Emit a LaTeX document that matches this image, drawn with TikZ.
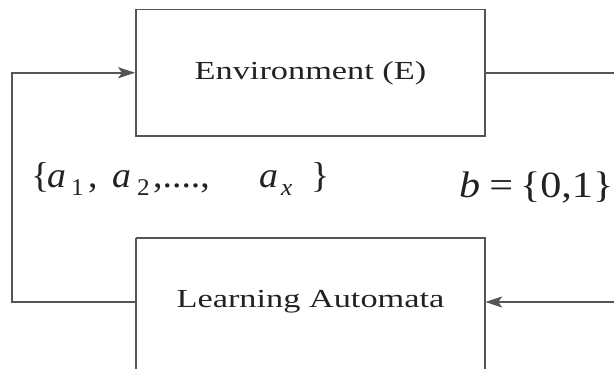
\documentclass[tikz,border=0pt]{standalone}
\usepackage{fontspec}
\setmainfont{Liberation Serif}
\newfontfamily\boxserif[FakeStretch=1.32]{Liberation Serif}
\newfontfamily\mathserif[FakeStretch=1.05]{Liberation Serif}
\newfontfamily\mathserifw[FakeStretch=1.14]{Liberation Serif}
\usetikzlibrary{arrows.meta}
\definecolor{lc}{HTML}{555555}
\definecolor{tc}{HTML}{222222}
\tikzset{
  blk/.style={draw=lc, line width=1.8pt, minimum width=349pt, minimum height=126.5pt, inner sep=0pt},
  boxtext/.style={text=tc, font=\boxserif\fontsize{26}{30}\selectfont},
  conn/.style={draw=lc, line width=1.8pt},
  arr/.style={-{Stealth[length=17pt,width=11pt,inset=4pt]}},
  mathlab/.style={text=tc, font=\mathserif\fontsize{36}{40}\selectfont, inner sep=0pt},
  mathlabw/.style={text=tc, font=\mathserifw\fontsize{37}{40}\selectfont, inner sep=0pt}
}
\newcommand{\subs}[1]{\raisebox{-8pt}{\fontsize{24}{24}\selectfont #1}}
\newcommand{\putat}[2]{\rlap{\hspace{#1pt}#2}}
\begin{document}
\begin{tikzpicture}[x=1pt,y=-1pt]
\useasboundingbox (0,0) rectangle (614,369);
\clip (0,0) rectangle (614,369);
\node[blk, boxtext] (env) at (310.5,72.75) {Environment (E)};
\node[boxtext, minimum width=349pt, minimum height=128pt, inner sep=0pt] (la) at (310.5,302) {Learning Automata};
\draw[conn] (la.north west) -- ++(0,160);
\draw[conn] (la.north west) -- (la.north east) -- ++(0,160);
\draw[conn, arr] (la.west) -- ++(-124,0) |- (env.west);
\draw[conn, arr] (env.east) -- ++(140,0) |- (la.east);
\node[mathlab, anchor=base west] (acts) at (31,187) {\makebox[300pt][l]{%
  \putat{0}{\{}\putat{16}{\textit{a}}\putat{40}{\subs{1}}\putat{57}{,}%
  \putat{81}{\textit{a}}\putat{106}{\subs{2}}\putat{122}{,....,}%
  \putat{228}{\textit{a}}\putat{250}{\subs{\textit{x}}}\putat{280}{\}}}};
\node[mathlabw, anchor=base west] (resp) at (459,197) {\textit{b}\hspace{9pt}=\hspace{7pt}\{0,1\}};
\end{tikzpicture}
\end{document}
